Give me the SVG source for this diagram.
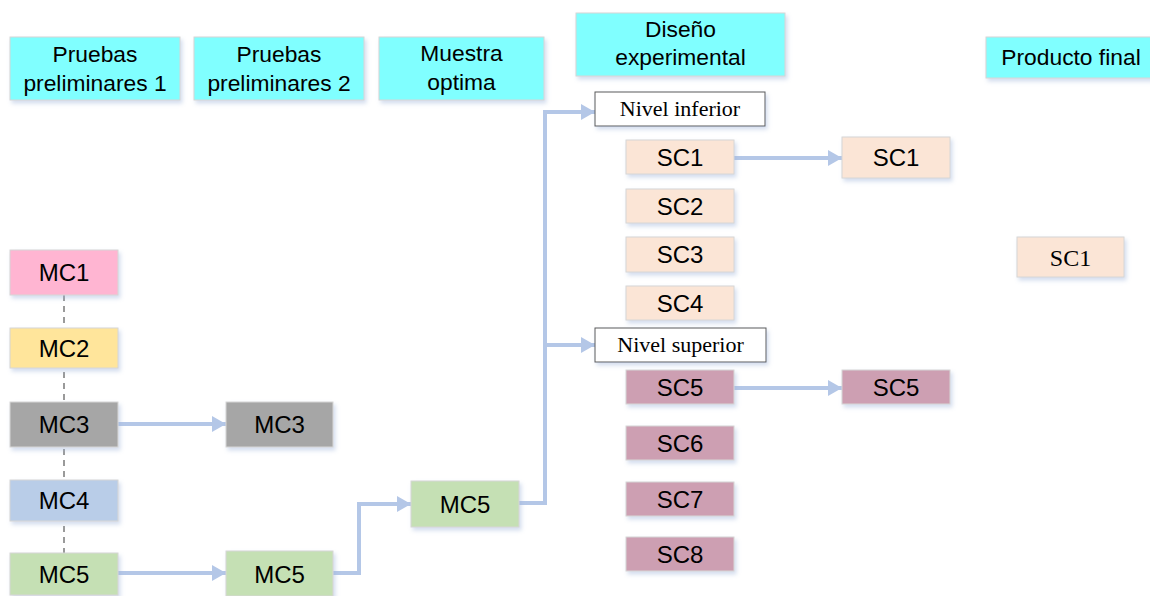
<svg xmlns="http://www.w3.org/2000/svg" width="1150" height="596" viewBox="0 0 1150 596">
  <defs>
    <filter id="shadow" x="-10%" y="-20%" width="125%" height="160%">
      <feDropShadow dx="2" dy="3" stdDeviation="2" flood-color="#9db3d9" flood-opacity="0.45"/>
    </filter>
    <marker id="arrow" markerUnits="userSpaceOnUse" markerWidth="15" markerHeight="17" refX="14" refY="8" orient="auto">
      <path d="M0,0 L14,8 L0,16 Z" fill="#b4c7e7"/>
    </marker>
    <style>
      .box { stroke: #d6d6d6; stroke-width: 1; filter: url(#shadow); }
      .head { fill: #80ffff; }
      .mc1 { fill: #ffb5d2; }
      .mc2 { fill: #ffe59b; }
      .mc3 { fill: #a6a6a6; }
      .mc4 { fill: #b9cde8; }
      .mc5 { fill: #c5e0b4; }
      .sca { fill: #fbe5d6; }
      .scb { fill: #cd9fb2; }
      .lvl { fill: #ffffff; stroke: #5a5a5a; stroke-width: 1; filter: url(#shadow); }
      .t { font-family: "Liberation Sans", Arial, sans-serif; fill: #000; text-anchor: middle; }
      .th { font-size: 22.8px; }
      .tn { font-size: 24px; }
      .ts { font-family: "Liberation Serif", "Times New Roman", serif; fill: #000; text-anchor: middle; }
      .flow { fill: none; stroke: #b4c7e7; stroke-width: 4; stroke-linejoin: miter; marker-end: url(#arrow); }
      .dash { fill: none; stroke: #9a9a9a; stroke-width: 2; stroke-dasharray: 6 5; }
    </style>
  </defs>

  <rect width="1150" height="596" fill="#ffffff"/>

  <!-- connectors -->
  <g id="connectors">
    <line class="dash" x1="64" y1="295" x2="64" y2="553"/>
    <line class="flow" x1="118" y1="424" x2="226" y2="424"/>
    <line class="flow" x1="118" y1="573" x2="226" y2="573"/>
    <polyline class="flow" points="333,573 359,573 359,504 411,504"/>
    <polyline class="flow" points="519,503 545,503 545,112 595,112"/>
    <line class="flow" x1="545" y1="345" x2="595" y2="345"/>
    <line class="flow" x1="734" y1="158" x2="842" y2="158"/>
    <line class="flow" x1="734" y1="388" x2="842" y2="388"/>
  </g>

  <!-- column headers -->
  <g id="head-pruebas1">
    <rect class="box head" x="10" y="37" width="170" height="63"/>
    <text class="t th" x="95" y="62">Pruebas</text>
    <text class="t th" x="95" y="91">preliminares 1</text>
  </g>
  <g id="head-pruebas2">
    <rect class="box head" x="194" y="37" width="170" height="63"/>
    <text class="t th" x="279" y="62">Pruebas</text>
    <text class="t th" x="279" y="91">preliminares 2</text>
  </g>
  <g id="head-muestra">
    <rect class="box head" x="379" y="37" width="165" height="63"/>
    <text class="t th" x="461.5" y="61">Muestra</text>
    <text class="t th" x="461.5" y="90">optima</text>
  </g>
  <g id="head-diseno">
    <rect class="box head" x="576" y="13" width="209" height="63"/>
    <text class="t th" x="680.5" y="37">Diseño</text>
    <text class="t th" x="680.5" y="65">experimental</text>
  </g>
  <g id="head-producto">
    <rect class="box head" x="986" y="37" width="170" height="41"/>
    <text class="t th" x="1071" y="65">Producto final</text>
  </g>

  <!-- preliminary tests 1 -->
  <g id="mc1">
    <rect class="box mc1" x="10" y="250" width="108" height="45"/>
    <text class="t tn" x="64" y="281">MC1</text>
  </g>
  <g id="mc2">
    <rect class="box mc2" x="10" y="328" width="108" height="40"/>
    <text class="t tn" x="64" y="356.5">MC2</text>
  </g>
  <g id="mc3">
    <rect class="box mc3" x="10" y="402" width="108" height="45"/>
    <text class="t tn" x="64" y="433">MC3</text>
  </g>
  <g id="mc4">
    <rect class="box mc4" x="10" y="480" width="108" height="41"/>
    <text class="t tn" x="64" y="509">MC4</text>
  </g>
  <g id="mc5">
    <rect class="box mc5" x="10" y="553" width="108" height="42"/>
    <text class="t tn" x="64" y="582.5">MC5</text>
  </g>

  <!-- preliminary tests 2 -->
  <g id="mc3-b">
    <rect class="box mc3" x="226" y="402" width="107" height="45"/>
    <text class="t tn" x="279.5" y="433">MC3</text>
  </g>
  <g id="mc5-b">
    <rect class="box mc5" x="226" y="551" width="107" height="45"/>
    <text class="t tn" x="279.5" y="582.5">MC5</text>
  </g>

  <!-- optimal sample -->
  <g id="mc5-c">
    <rect class="box mc5" x="411" y="481" width="108" height="46"/>
    <text class="t tn" x="465" y="512.5">MC5</text>
  </g>

  <!-- experimental design levels -->
  <g id="nivel-inferior">
    <rect class="lvl" x="595" y="92" width="170" height="34"/>
    <text class="ts" x="680" y="116" font-size="22">Nivel inferior</text>
  </g>
  <g id="nivel-superior">
    <rect class="lvl" x="595" y="328" width="171" height="34"/>
    <text class="ts" x="680.5" y="352" font-size="22">Nivel superior</text>
  </g>

  <g id="sc1">
    <rect class="box sca" x="626" y="140" width="108" height="34"/>
    <text class="t tn" x="680" y="165.5">SC1</text>
  </g>
  <g id="sc2">
    <rect class="box sca" x="626" y="189" width="108" height="34"/>
    <text class="t tn" x="680" y="214.5">SC2</text>
  </g>
  <g id="sc3">
    <rect class="box sca" x="626" y="237" width="108" height="35"/>
    <text class="t tn" x="680" y="263">SC3</text>
  </g>
  <g id="sc4">
    <rect class="box sca" x="626" y="286" width="108" height="34"/>
    <text class="t tn" x="680" y="311.5">SC4</text>
  </g>
  <g id="sc5">
    <rect class="box scb" x="626" y="370" width="108" height="34"/>
    <text class="t tn" x="680" y="395.5">SC5</text>
  </g>
  <g id="sc6">
    <rect class="box scb" x="626" y="426" width="108" height="34"/>
    <text class="t tn" x="680" y="451.5">SC6</text>
  </g>
  <g id="sc7">
    <rect class="box scb" x="626" y="482" width="108" height="34"/>
    <text class="t tn" x="680" y="507.5">SC7</text>
  </g>
  <g id="sc8">
    <rect class="box scb" x="626" y="537" width="108" height="34"/>
    <text class="t tn" x="680" y="562.5">SC8</text>
  </g>

  <!-- selected samples -->
  <g id="sc1-b">
    <rect class="box sca" x="842" y="137" width="108" height="41"/>
    <text class="t tn" x="896" y="166">SC1</text>
  </g>
  <g id="sc5-b">
    <rect class="box scb" x="842" y="370" width="108" height="34"/>
    <text class="t tn" x="896" y="395.5">SC5</text>
  </g>

  <!-- final product -->
  <g id="producto-sc1">
    <rect class="box sca" x="1017" y="237" width="107" height="40"/>
    <text class="ts" x="1070.5" y="266" font-size="24">SC1</text>
  </g>
</svg>
